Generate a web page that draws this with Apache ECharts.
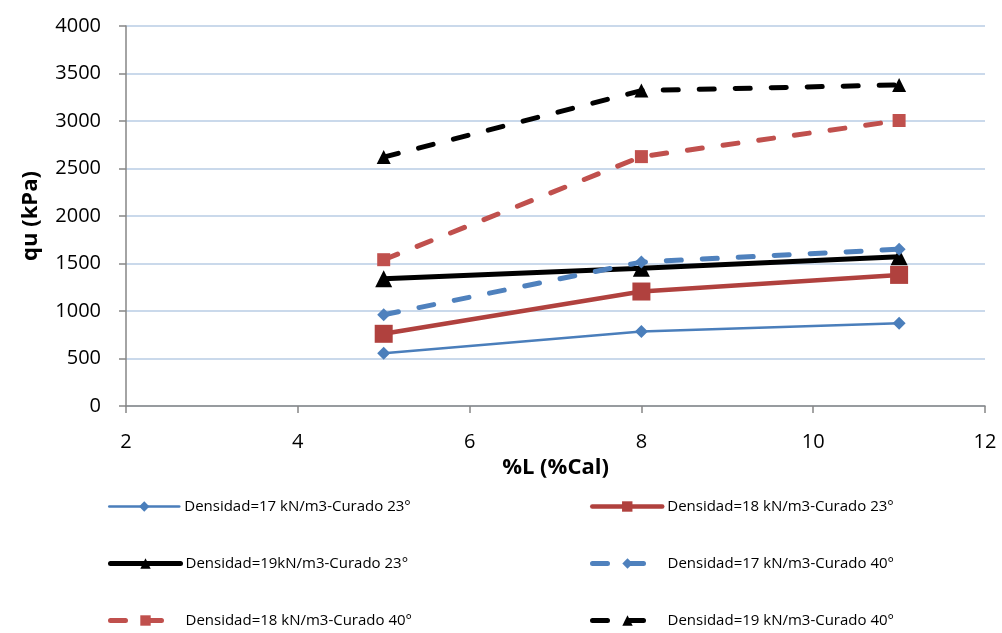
<!DOCTYPE html>
<html>
<head>
<meta charset="utf-8">
<script src="https://cdn.jsdelivr.net/npm/echarts@6/dist/echarts.min.js"></script>
<style>
html,body{margin:0;padding:0;background:#fff;}
#chart{width:1002px;height:633px;}
</style>
</head>
<body>
<div id="chart"></div>
<script>
// %L (%Cal) values where specimens were tested
const cal = [5, 8, 11];
// Unconfined compressive strength qu (kPa)
const d17c23 = [555, 785, 870];
const d18c23 = [760, 1205, 1380];
const d19c23 = [1340, 1450, 1570];
const d17c40 = [960, 1515, 1650];
const d18c40 = [1540, 2625, 3005];
const d19c40 = [2620, 3320, 3380];
const seriesNames = [
  'Densidad=17 kN/m3-Curado 23°',
  'Densidad=18 kN/m3-Curado 23°',
  'Densidad=19kN/m3-Curado 23°',
  'Densidad=17 kN/m3-Curado 40°',
  'Densidad=18 kN/m3-Curado 40°',
  'Densidad=19 kN/m3-Curado 40°'
];

const FONT = '"Open Sans", "Liberation Sans", sans-serif';
const pairs = ys => cal.map((x, i) => [x, ys[i]]);

function line(name, ys, color, width, symbol, size, dashed) {
  return {
    name, type: 'line', data: pairs(ys),
    symbol, symbolSize: size,
    itemStyle: { color },
    lineStyle: { color, width, type: dashed ? [15, 21] : 'solid', cap: 'round' },
    z: dashed ? 3 : 2
  };
}

const series = [
  line(seriesNames[0], d17c23, '#4a7ebb', 2.5, 'diamond', 13, false),
  line(seriesNames[1], d18c23, '#b0413e', 4.5, 'rect', 18, false),
  line(seriesNames[2], d19c23, '#000000', 5, 'triangle', 17, false),
  line(seriesNames[3], d17c40, '#4f81bd', 5, 'diamond', 13, true),
  line(seriesNames[4], d18c40, '#c0504d', 5, 'rect', 13, true),
  line(seriesNames[5], d19c40, '#000000', 5, 'triangle', 14, true)
];

// Two-column legend, one component per entry
const legendPos = [[108, 499], [590, 499], [108, 556], [590, 556], [108, 613], [590, 613]];
const legends = seriesNames.map((n, i) => ({
  data: [n],
  left: legendPos[i][0], top: legendPos[i][1],
  padding: 0,
  itemWidth: 70, itemHeight: 13, itemGap: 0,
  lineStyle: { width: 'inherit' },
  textStyle: { fontFamily: FONT, fontSize: 15, color: '#000' },
  selectedMode: false
}));

const chart = echarts.init(document.getElementById('chart'), null, { renderer: 'canvas' });
chart.setOption({
  animation: false,
  backgroundColor: '#fff',
  grid: { left: 126, right: 17, top: 26, bottom: 227, containLabel: false },
  legend: legends,
  xAxis: {
    type: 'value', min: 2, max: 12, interval: 2,
    name: '%L (%Cal)', nameLocation: 'middle', nameGap: 38,
    nameTextStyle: { fontFamily: FONT, fontSize: 22, fontWeight: 'bold', color: '#000' },
    axisLine: { lineStyle: { color: '#868686', width: 1.5 } },
    axisTick: { show: true, length: 7, lineStyle: { color: '#868686', width: 1.5 } },
    axisLabel: { fontFamily: FONT, fontSize: 20, color: '#000', margin: 26 },
    splitLine: { show: false }
  },
  yAxis: {
    type: 'value', min: 0, max: 4000, interval: 500,
    name: 'qu (kPa)', nameLocation: 'middle', nameGap: 84, nameRotate: 90,
    nameTextStyle: { fontFamily: FONT, fontSize: 22, fontWeight: 'bold', color: '#000' },
    axisLine: { show: true, lineStyle: { color: '#868686', width: 1.5 } },
    axisTick: { show: true, length: 7, lineStyle: { color: '#868686', width: 1.5 } },
    axisLabel: { fontFamily: FONT, fontSize: 20, color: '#000', margin: 25, formatter: v => String(v) },
    splitLine: { lineStyle: { color: '#b9cde5', width: 1.5 } }
  },
  series
});
</script>
</body>
</html>
